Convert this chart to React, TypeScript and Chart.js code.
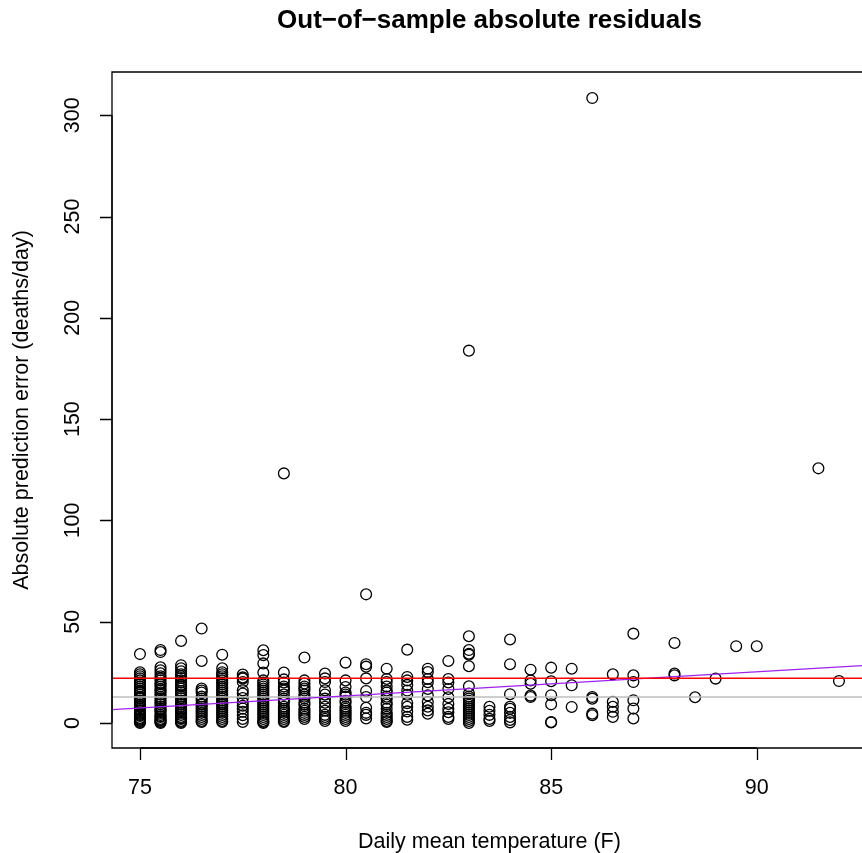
import { useEffect, useRef } from "react";
import { Chart, registerables } from "chart.js";

Chart.register(...registerables);

// Temperature levels (F) and the absolute residuals observed at each level
const tempLevels = [
  75, 75.5, 76, 76.5, 77, 77.5, 78, 78.5, 79, 79.5, 80, 80.5, 81, 81.5, 82, 82.5,
  83, 83.5, 84, 84.5, 85, 85.5, 86, 86.5, 87, 88, 88.5, 89, 89.5, 90, 91.5, 92,
];

const absErrorsByTemp: number[][] = [
  [34, 25, 24, 23, 22, 21, 20, 19.2, 18, 17, 16, 15.4, 15, 14, 13, 12.4, 12, 11, 10.3, 10, 9, 8.4, 8, 7, 6.3, 6, 5, 4.5, 4, 3.5, 2.5, 2, 1.5, 1, 0.5, 0],
  [36, 35, 27.5, 26, 24.5, 23, 22, 21, 19.6, 19, 18, 16.7, 16, 15, 14, 12.8, 12, 11, 10, 9.2, 8, 7, 6.4, 6, 5, 4, 3.3, 3, 2, 1.5, 1, 0.5, 0],
  [40.5, 28.5, 27, 25.5, 24, 23, 22.2, 21, 20, 18.6, 18, 17, 15.8, 15, 14, 13, 12.2, 11, 10, 9.3, 9, 8, 7, 6.5, 6, 5, 4, 3, 2.4, 2, 1, 0.5, 0],
  [46.6, 30.6, 17, 16, 15, 13, 12, 11, 9.5, 9, 8, 7, 6, 5, 4, 3, 2, 1, 0.5],
  [33.7, 27, 25, 24, 23, 22, 21, 20, 19, 17.8, 17, 16, 15, 14, 13, 12, 11, 10, 9.4, 9, 8, 7, 6, 5, 4, 3, 2, 1, 0.5],
  [23.9, 22.5, 21.9, 20.2, 16.1, 14.5, 12.3, 10, 8.5, 7.1, 5.5, 3.8, 2, 0.5],
  [35.9, 33.5, 29.4, 24.9, 21, 20, 19, 18, 17, 16, 15, 14, 13, 12, 11, 10, 9, 8, 7, 6, 5, 4, 3, 2, 1, 0.5, 0],
  [123.2, 24.9, 21.5, 20, 18, 17, 16, 14, 12, 11, 10, 8, 7, 6, 5, 4, 3, 2, 1, 0.5],
  [32.3, 21, 19.5, 18, 17, 16, 14, 13, 12, 10, 9, 7, 6, 5, 4, 3, 2],
  [24.4, 22, 20.2, 16.1, 14, 12, 10, 8, 6, 4, 3, 2, 1],
  [29.8, 21, 17.7, 15, 14, 13, 11, 10, 8, 7, 6, 5, 4, 3, 2, 1],
  [63.5, 29, 27.8, 22, 15.8, 12.8, 7.5, 5, 4, 2.2],
  [26.8, 21.7, 20.2, 18, 16, 15, 13, 12, 10, 9, 7, 5, 4, 3, 2, 1, 0.5],
  [36.2, 22.7, 21, 18.8, 16, 13.9, 9.8, 8, 5.7, 3, 1.6],
  [26.8, 25.1, 21.7, 20.1, 16.8, 13.6, 10.3, 8, 6.2, 4.6],
  [30.6, 21.7, 20, 16.8, 12.7, 9.4, 7, 5.3, 3, 2],
  [183.8, 42.8, 36, 34.2, 33.7, 28, 18.1, 14.5, 13, 12, 11, 10, 9, 8, 7, 6, 5, 4, 3, 2, 1, 0],
  [8, 6, 4, 2, 1],
  [41.2, 29, 14.2, 8, 7, 5, 3, 1.5, 0.3],
  [26.3, 21, 19.4, 13.5, 12.8],
  [27.3, 20.6, 13.7, 9.2, 0.5, 0.2],
  [26.8, 18.6, 7.9],
  [308.5, 12.8, 12, 4.6, 3.8],
  [24, 10.4, 8, 5.5, 3],
  [44.1, 23.5, 20.2, 11.2, 7.1, 2.2],
  [39.5, 24.4, 23.5],
  [12.7],
  [21.9],
  [37.9],
  [37.9],
  [125.7],
  [20.7],
];

const meanAbsError = 22.1;
const medianAbsError = 12.8;
const trendIntercept = -81.85;
const trendSlope = 1.19;

const xTicks = [75, 80, 85, 90];
const yTicks = [0, 50, 100, 150, 200, 250, 300];

const X_MIN = 74.32;
const X_MAX = 92.56;
const X_CENTER = 83.5;
const Y_MIN = -12.36;
const Y_MAX = 321.36;

const TITLE = "Out\u2212of\u2212sample absolute residuals";
const X_TITLE = "Daily mean temperature (F)";
const Y_TITLE = "Absolute prediction error (deaths/day)";

const FONT = '"Liberation Sans", Arial, Helvetica, sans-serif';
const TICK_FONT_PX = 21.5;

const rAxesPlugin = {
  id: "rAxes",
  afterDraw(chart: any) {
    const { ctx, chartArea: a, scales } = chart;
    const xs = scales.x;
    const ys = scales.y;
    ctx.save();
    ctx.strokeStyle = "#000";
    ctx.fillStyle = "#000";
    ctx.lineWidth = 1.3;

    // plot box (right side is beyond the canvas)
    ctx.beginPath();
    ctx.moveTo(chart.width + 2, a.top);
    ctx.lineTo(a.left, a.top);
    ctx.lineTo(a.left, a.bottom);
    ctx.lineTo(chart.width + 2, a.bottom);
    ctx.stroke();

    // x axis
    ctx.beginPath();
    ctx.moveTo(xs.getPixelForValue(xTicks[0]), a.bottom);
    ctx.lineTo(xs.getPixelForValue(xTicks[xTicks.length - 1]), a.bottom);
    for (const t of xTicks) {
      const px = Math.round(xs.getPixelForValue(t)) + 0.5;
      ctx.moveTo(px, a.bottom);
      ctx.lineTo(px, a.bottom + 12);
    }
    ctx.stroke();
    ctx.font = `${TICK_FONT_PX}px ${FONT}`;
    ctx.textAlign = "center";
    ctx.textBaseline = "middle";
    for (const t of xTicks) {
      ctx.fillText(String(t), xs.getPixelForValue(t), a.bottom + 40);
    }

    // y axis
    ctx.beginPath();
    ctx.moveTo(a.left, ys.getPixelForValue(yTicks[0]));
    ctx.lineTo(a.left, ys.getPixelForValue(yTicks[yTicks.length - 1]));
    for (const t of yTicks) {
      const py = Math.round(ys.getPixelForValue(t)) + 0.5;
      ctx.moveTo(a.left, py);
      ctx.lineTo(a.left - 12, py);
    }
    ctx.stroke();
    for (const t of yTicks) {
      ctx.save();
      ctx.translate(a.left - 39, ys.getPixelForValue(t));
      ctx.rotate(-Math.PI / 2);
      ctx.fillText(String(t), 0, 0);
      ctx.restore();
    }

    // axis titles
    const cx = xs.getPixelForValue(X_CENTER);
    ctx.fillText(X_TITLE, cx, a.bottom + 94);
    ctx.save();
    ctx.translate(22, ys.getPixelForValue((Y_MIN + Y_MAX) / 2));
    ctx.rotate(-Math.PI / 2);
    ctx.fillText(Y_TITLE, 0, 0);
    ctx.restore();

    // main title
    ctx.font = `bold 26px ${FONT}`;
    ctx.fillText(TITLE, cx, 21);
    ctx.restore();
  },
};

export default function App() {
  const canvasRef = useRef<HTMLCanvasElement | null>(null);

  useEffect(() => {
    document.body.style.margin = "0";
    const canvas = canvasRef.current;
    if (!canvas) return;

    const points: { x: number; y: number }[] = [];
    tempLevels.forEach((t, i) => {
      for (const v of absErrorsByTemp[i]) points.push({ x: t, y: v });
    });

    const hline = (v: number) => [
      { x: X_MIN, y: v },
      { x: X_MAX, y: v },
    ];
    const trend = [X_MIN, X_MAX].map((x) => ({ x, y: trendIntercept + trendSlope * x }));

    const chart = new Chart(canvas, {
      type: "scatter",
      data: {
        datasets: [
          {
            type: "line",
            data: hline(meanAbsError),
            borderColor: "#FF0000",
            borderWidth: 1.4,
            pointRadius: 0,
            fill: false,
          } as any,
          {
            type: "line",
            data: trend,
            borderColor: "#A020F0",
            borderWidth: 1.4,
            pointRadius: 0,
            fill: false,
          } as any,
          {
            type: "line",
            data: hline(medianAbsError),
            borderColor: "#BEBEBE",
            borderWidth: 1.4,
            pointRadius: 0,
            fill: false,
          } as any,
          {
            data: points,
            pointStyle: "circle",
            pointRadius: 5.4,
            pointBorderWidth: 1.3,
            pointBackgroundColor: "rgba(0,0,0,0)",
            pointBorderColor: "#000",
          } as any,
        ],
      },
      options: {
        animation: false,
        responsive: false,
        devicePixelRatio: 1,
        layout: { autoPadding: false, padding: { left: 112, top: 72, right: 0, bottom: 105 } },
        plugins: {
          legend: { display: false },
          tooltip: { enabled: false },
          title: { display: false },
        },
        events: [],
        scales: {
          x: { type: "linear", min: X_MIN, max: X_MAX, display: false },
          y: { type: "linear", min: Y_MIN, max: Y_MAX, display: false },
        },
      },
      plugins: [rAxesPlugin],
    });

    return () => chart.destroy();
  }, []);

  return (
    <div style={{ position: "absolute", left: 0, top: 0, width: 862, height: 853, background: "#fff" }}>
      <canvas ref={canvasRef} width={862} height={853} />
    </div>
  );
}
